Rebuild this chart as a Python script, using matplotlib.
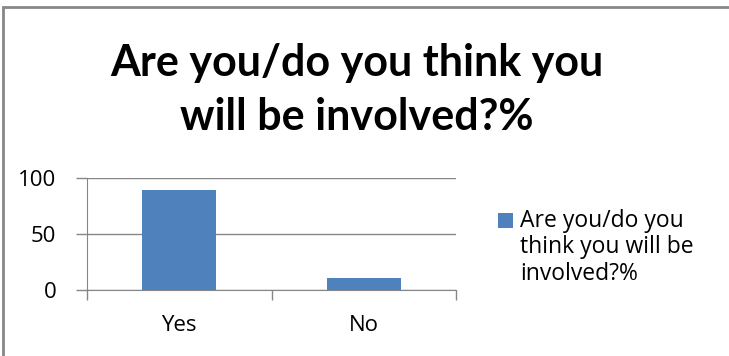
import matplotlib.pyplot as plt
from matplotlib.lines import Line2D
from matplotlib.patches import Rectangle

categories = ['Yes', 'No']
values = [89, 11]
series_name = 'Are you/do you\nthink you will be\ninvolved?%'
title = 'Are you/do you think you\nwill be involved?%'
yticks = [0, 50, 100]

bar_color = '#4f81bd'
grid_color = '#868686'
W, H = 729, 356

plt.rcParams['font.family'] = ['Open Sans', 'DejaVu Sans']

fig = plt.figure(figsize=(W / 100, H / 100), dpi=100)
fig.patch.set_facecolor('white')

# chart area outline: only the top and left edges are in frame
fig.lines.append(Line2D([3 / W, 3 / W, 1.2], [-0.2, 1 - 7 / H, 1 - 7 / H],
                        transform=fig.transFigure, color='#878787', linewidth=2,
                        solid_joinstyle='miter', clip_on=False))

ax = fig.add_axes([87 / W, 1 - 290 / H, 369 / W, 112 / H])
x = range(len(categories))
ax.bar(x, values, width=0.4, color=bar_color, zorder=3)

ax.set_xlim(-0.5, len(categories) - 0.5)
ax.set_ylim(0, 100)
ax.set_yticks(yticks)
ax.set_xticks(list(x))
ax.set_xticklabels(categories)
ax.tick_params(axis='x', length=0, pad=18, labelsize=16)
ax.tick_params(axis='y', length=8, width=1, color=grid_color, pad=14, labelsize=16)

# category boundary ticks on the x axis
ax.set_xticks([-0.5, 0.5, 1.5], minor=True)
ax.tick_params(axis='x', which='minor', length=7, width=1, color=grid_color)

ax.yaxis.grid(True, color=grid_color, linewidth=1, zorder=0)
for side in ['top', 'right']:
    ax.spines[side].set_visible(False)
ax.spines['left'].set_color(grid_color)
ax.spines['bottom'].set_color(grid_color)

# baseline placement refers to the last line of a multi-line text
fig.text(357 / W, 1 - 130 / H, title, ha='center', va='baseline',
         fontsize=31, fontweight='bold', family=['Lato', 'DejaVu Sans'],
         linespacing=1.42)

# legend: square key aligned with the first line of the label
fig.patches.append(Rectangle((498 / W, 1 - 228 / H), 15 / W, 15 / H,
                             transform=fig.transFigure, facecolor=bar_color,
                             edgecolor='none'))
fig.text(520 / W, 1 - 280 / H, series_name, ha='left', va='baseline',
         fontsize=16.5, linespacing=1.15)

fig.savefig('out.png', dpi=100)
